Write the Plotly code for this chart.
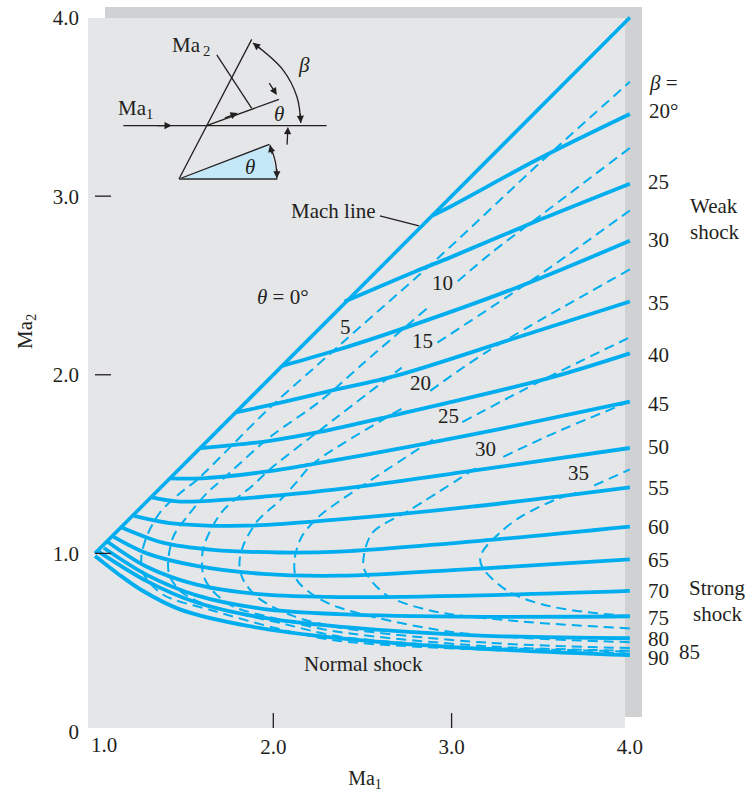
import plotly.graph_objects as go

W, H = 749, 794
BLUE = "#00AEEF"
INK = "#231f20"
FONT = "Liberation Serif"
FS = 21

# --- plot rectangle in the page
L, R, T, B = 88, 642, 7, 732
XR = [0.9607, 4.068]
YR = [0.0, 4.059]

# --- beta = const (solid) curves: Ma1, Ma2
b20_x = [2.89, 3.0, 3.5, 4.0]
b20_y = [2.89, 2.945, 3.215, 3.46]
b25_x = [2.40, 2.8, 3.0, 3.5, 4.0]
b25_y = [2.41, 2.58, 2.66, 2.87, 3.07]
b30_x = [2.05, 2.33, 2.73, 3.37, 4.0]
b30_y = [2.05, 2.13, 2.26, 2.49, 2.75]
b35_x = [1.79, 1.98, 2.32, 2.69, 3.34, 4.0]
b35_y = [1.79, 1.83, 1.91, 1.995, 2.20, 2.41]
b40_x = [1.59, 1.98, 2.26, 2.64, 3.54, 4.0]
b40_y = [1.59, 1.63, 1.68, 1.765, 1.98, 2.12]
b45_x = [1.42, 1.6, 1.98, 2.22, 2.78, 3.29, 4.0]
b45_y = [1.42, 1.42, 1.46, 1.50, 1.60, 1.70, 1.85]
b50_x = [1.31, 1.48, 1.98, 2.49, 3.10, 4.0]
b50_y = [1.315, 1.29, 1.32, 1.375, 1.46, 1.59]
b55_x = [1.22, 1.42, 1.85, 2.37, 3.10, 4.0]
b55_y = [1.21, 1.17, 1.155, 1.19, 1.26, 1.37]
b60_x = [1.15, 1.38, 1.66, 2.04, 2.37, 3.16, 4.0]
b60_y = [1.145, 1.06, 1.02, 1.005, 1.01, 1.07, 1.15]
b65_x = [1.10, 1.29, 1.57, 1.94, 2.37, 3.16, 4.0]
b65_y = [1.095, 1.00, 0.93, 0.885, 0.875, 0.915, 0.966]
b70_x = [1.07, 1.29, 1.57, 1.94, 2.37, 3.16, 4.0]
b70_y = [1.065, 0.925, 0.825, 0.77, 0.755, 0.765, 0.79]
b75_x = [1.05, 1.29, 1.57, 1.94, 2.37, 3.16, 4.0]
b75_y = [1.03, 0.88, 0.765, 0.69, 0.66, 0.645, 0.648]
b80_x = [1.02, 1.29, 1.57, 1.94, 2.37, 3.16, 4.0]
b80_y = [1.01, 0.845, 0.725, 0.64, 0.59, 0.54, 0.525]
b90_x = [1.0, 1.13, 1.26, 1.48, 1.85, 2.37, 3.0, 4.0]
b90_y = [0.985, 0.885, 0.795, 0.685, 0.595, 0.525, 0.475, 0.43]
mach_x = [1.0, 4.0]
mach_y = [1.0, 4.0]

# --- theta = const (dashed) curves: lower branch, nose, upper branch
# (None leaves the gap the reference has around each curve's label)
t5_x = [4.0, 3.2, 2.37, 2.04, 1.66, 1.38, 1.27, 1.26, 1.29, 1.365, 1.48, 1.57, 1.98, 2.31, 2.45, 2.92, 3.51, 4.0]
t5_y = [0.44, 0.46, 0.51, 0.575, 0.68, 0.77, 0.89, 0.98, 1.095, 1.23, 1.34, 1.41, 1.815, 2.11, 2.235, 2.65, 3.20, 3.64]
t10_x = [4.0, 3.51, 3.22, 3.02, None, 2.86, 2.5, 2.26, 1.98, 1.71, 1.63, 1.52, 1.44, 1.41, 1.42, 1.49, 1.66, 2.04, 2.37, 3.2]
t10_y = [3.27, 2.90, 2.68, 2.51, None, 2.37, 2.06, 1.85, 1.65, 1.41, 1.34, 1.21, 1.095, 0.95, 0.87, 0.78, 0.70, 0.61, 0.535, 0.47]
t10_tail_x, t10_tail_y = [3.2, 4.0], [0.47, 0.45]
t15_x = [4.0, 3.2, 2.37, 2.04, 1.77, 1.66, 1.61, 1.60, 1.61, 1.71, 1.89, 1.98, 2.36, 2.72, None, 2.92, 3.48, 4.0]
t15_y = [0.455, 0.48, 0.56, 0.63, 0.705, 0.79, 0.87, 0.94, 1.04, 1.23, 1.385, 1.47, 1.765, 2.04, None, 2.18, 2.55, 2.92]
t20_x = [4.0, 3.2, 2.37, 2.11, 1.91, 1.83, 1.81, 1.83, 1.91, 2.04, 2.14, 2.22, 2.72, None, 2.88, 3.2, 4.0]
t20_y = [0.47, 0.50, 0.585, 0.65, 0.755, 0.855, 0.94, 1.04, 1.18, 1.30, 1.41, 1.50, 1.81, None, 1.91, 2.13, 2.59]
t25_x = [4.0, 3.0, 2.36, 2.22, 2.13, 2.12, 2.16, 2.26, 2.36, 2.90, None, 3.06, 3.51, 4.0]
t25_y = [0.503, 0.56, 0.70, 0.77, 0.855, 0.97, 1.095, 1.21, 1.285, 1.64, None, 1.735, 1.97, 2.21]
t30_x = [4.0, 3.38, 2.88, 2.63, 2.51, 2.51, 2.56, 2.77, 3.14, None, 3.29, 3.59, 4.0]
t30_y = [0.58, 0.62, 0.68, 0.77, 0.91, 1.0, 1.12, 1.245, 1.48, None, 1.54, 1.68, 1.85]
t35_x = [4.0, 3.57, 3.33, 3.18, 3.16, 3.18, 3.27, 3.38, 3.58, 3.70, None, 3.80, 4.0]
t35_y = [0.648, 0.70, 0.78, 0.91, 0.966, 1.02, 1.115, 1.20, 1.30, 1.34, None, 1.38, 1.47]

# --- axis ticks
x_ticks = [2.0, 3.0, 4.0]
x_tick_text = ["2.0", "3.0", "4.0"]
y_ticks = [0, 1.0, 2.0, 3.0, 4.0]
y_tick_text = ["0", "1.0", "2.0", "3.0", "4.0"]

# --- inset sketch, in axis units
flow_x, flow_y = [1.159, 2.299], [3.395, 3.395]
shock_x, shock_y = [1.471, 1.879], [3.096, 3.878]
stream_x, stream_y = [1.626, 2.032], [3.395, 3.542]
normal_x, normal_y = [1.683, 1.879], [3.791, 3.492]
wedge_x = [1.471, 1.978, 2.023, 1.471]
wedge_y = [3.096, 3.290, 3.096, 3.096]
beta_arc_x = [1.886, 2.054, 2.133, 2.154]
beta_arc_y = [3.858, 3.707, 3.555, 3.41]
wedge_arc_x = [1.981, 2.012, 2.02]
wedge_arc_y = [3.287, 3.19, 3.10]
pointer_x, pointer_y = [2.598, 2.817], [2.889, 2.833]

fig = go.Figure()


def solid(x, y, w=3.8):
    fig.add_trace(go.Scatter(x=x, y=y, mode="lines", hoverinfo="skip",
                             line=dict(color=BLUE, width=w, shape="spline", smoothing=0.9)))


def dashed(x, y):
    fig.add_trace(go.Scatter(x=x, y=y, mode="lines", hoverinfo="skip",
                             line=dict(color=BLUE, width=2, shape="spline", smoothing=0.9,
                                       dash="10px,6px")))


def thin(x, y, w=1.3, color=INK, spline=False):
    fig.add_trace(go.Scatter(x=x, y=y, mode="lines", hoverinfo="skip",
                             line=dict(color=color, width=w,
                                       shape="spline" if spline else "linear")))


for x, y in [(t5_x, t5_y), (t10_x, t10_y), (t10_tail_x, t10_tail_y), (t15_x, t15_y), (t20_x, t20_y),
             (t25_x, t25_y), (t30_x, t30_y), (t35_x, t35_y)]:
    dashed(x, y)
for x, y in [(b20_x, b20_y), (b25_x, b25_y), (b30_x, b30_y), (b35_x, b35_y),
             (b40_x, b40_y), (b45_x, b45_y), (b50_x, b50_y), (b55_x, b55_y),
             (b60_x, b60_y), (b65_x, b65_y), (b70_x, b70_y), (b75_x, b75_y),
             (b80_x, b80_y), (b90_x, b90_y)]:
    solid(x, y)
solid(mach_x, mach_y, 3.6)

# inset
fig.add_trace(go.Scatter(x=wedge_x, y=wedge_y, mode="lines", fill="toself", fillcolor="#c5e8f9",
                         hoverinfo="skip", line=dict(color="#c5e8f9", width=0)))
thin(flow_x, flow_y)
thin(shock_x, shock_y)
thin(stream_x, stream_y)
thin(normal_x, normal_y)
thin(wedge_x[:2], wedge_y[:2])
thin([wedge_x[0], wedge_x[2]], [wedge_y[0], wedge_y[2]], 1.8, "#55565a")
thin(beta_arc_x, beta_arc_y, spline=True)
thin(wedge_arc_x, wedge_arc_y, spline=True)
thin(pointer_x, pointer_y)


def px_x(px):
    return (px - L) / (R - L)


def px_y(py):
    return 1 - (py - T) / (B - T)


def text(px, py, s, size=FS, **kw):
    fig.add_annotation(x=px_x(px), y=px_y(py), xref="paper", yref="paper", text=s, showarrow=False,
                       xanchor="center", yanchor="middle",
                       font=dict(family=FONT, size=size, color=INK), **kw)


def head(tip_x, tip_y, tail_x, tail_y):
    fig.add_annotation(x=tip_x, y=tip_y, ax=tail_x, ay=tail_y, xref="x", yref="y", axref="x", ayref="y",
                       text="", showarrow=True, arrowhead=2, arrowsize=1.1, arrowwidth=1.3, arrowcolor=INK)


# arrow heads of the inset
head(1.43, 3.395, 1.34, 3.395)
head(1.80, 3.465, 1.72, 3.435)
head(2.02, 3.567, 1.972, 3.641)
head(2.082, 3.387, 2.077, 3.28)
head(beta_arc_x[0], beta_arc_y[0], beta_arc_x[0] + 0.05, beta_arc_y[0] - 0.04)
head(beta_arc_x[-1], beta_arc_y[-1], beta_arc_x[-1] - 0.003, beta_arc_y[-1] + 0.06)
head(wedge_arc_x[0], wedge_arc_y[0], wedge_arc_x[0] + 0.015, wedge_arc_y[0] - 0.06)
head(wedge_arc_x[-1], wedge_arc_y[-1], wedge_arc_x[-1], wedge_arc_y[-1] + 0.06)

# inset and curve labels
text(191, 46, "Ma<sub>\u20092</sub>")
text(135, 109, "Ma<sub>1</sub>")
text(304, 65, "<i>\u03b2</i>")
text(279, 114, "<i>\u03b8</i>")
text(250, 167, "<i>\u03b8</i>")
text(333, 211, "Mach line")
text(283, 297, "<i>\u03b8</i> = 0\u00b0")
text(363, 664, "Normal shock")
for px, py, s in [(345, 327, "5"), (442, 283, "10"), (422, 341, "15"), (420, 383, "20"),
                  (448, 416, "25"), (485, 449, "30"), (578, 473, "35")]:
    text(px, py, s)
for px, py, s in [(663, 83, "<i>\u03b2</i> ="), (663, 111, "20\u00b0"), (658, 182, "25"), (658, 240, "30"),
                  (658, 303, "35"), (658, 355, "40"), (658, 404, "45"), (658, 447, "50"),
                  (658, 488, "55"), (658, 527, "60"), (658, 560, "65"), (658, 591, "70"),
                  (658, 618, "75"), (658, 639, "80"), (658, 658, "90"), (689, 652, "85")]:
    text(px, py, s)
text(714, 206, "Weak")
text(714, 232, "shock")
text(717, 588, "Strong")
text(717, 614, "shock")
text(104, 745, "1.0")
text(26, 332, "Ma<sub>2</sub>", textangle=-90)

shapes = [
    dict(type="rect", xref="paper", yref="paper", x0=px_x(105), x1=px_x(642), y0=px_y(717), y1=px_y(7),
         fillcolor="#d0d1d3", line_width=0, layer="below"),
    dict(type="rect", xref="paper", yref="paper", x0=px_x(88), x1=px_x(625), y0=px_y(728), y1=px_y(18),
         fillcolor="#e5e6e8", line_width=0, layer="below"),
]
for v in [1.0, 2.0, 3.0]:
    shapes.append(dict(type="line", xref="x", yref="y", x0=1.0, x1=1.09, y0=v, y1=v,
                       line=dict(color=INK, width=1.3)))
for v in [2.0, 3.0]:
    shapes.append(dict(type="line", xref="x", yref="y", x0=v, x1=v, y0=0.022, y1=0.106,
                       line=dict(color=INK, width=1.3)))

fig.update_layout(
    width=W, height=H, showlegend=False, paper_bgcolor="white", plot_bgcolor="white",
    margin=dict(l=L, r=W - R, t=T, b=H - B), shapes=shapes,
    font=dict(family=FONT, size=FS, color=INK), hovermode=False,
    xaxis=dict(range=XR, tickmode="array", tickvals=x_ticks, ticktext=x_tick_text, showgrid=False,
               zeroline=False, showline=False, ticks="",
               title=dict(text="Ma<sub>1</sub>", standoff=12, font=dict(family=FONT, size=FS - 1, color=INK)),
               automargin=False),
    yaxis=dict(range=YR, tickmode="array", tickvals=y_ticks, ticktext=y_tick_text, showgrid=False,
               zeroline=False, showline=False, ticks="", ticklabelstandoff=8, automargin=False),
)

fig.write_html("out.html", config={"displayModeBar": False},
               post_script="document.body.style.margin='0';document.body.style.overflow='hidden';")
